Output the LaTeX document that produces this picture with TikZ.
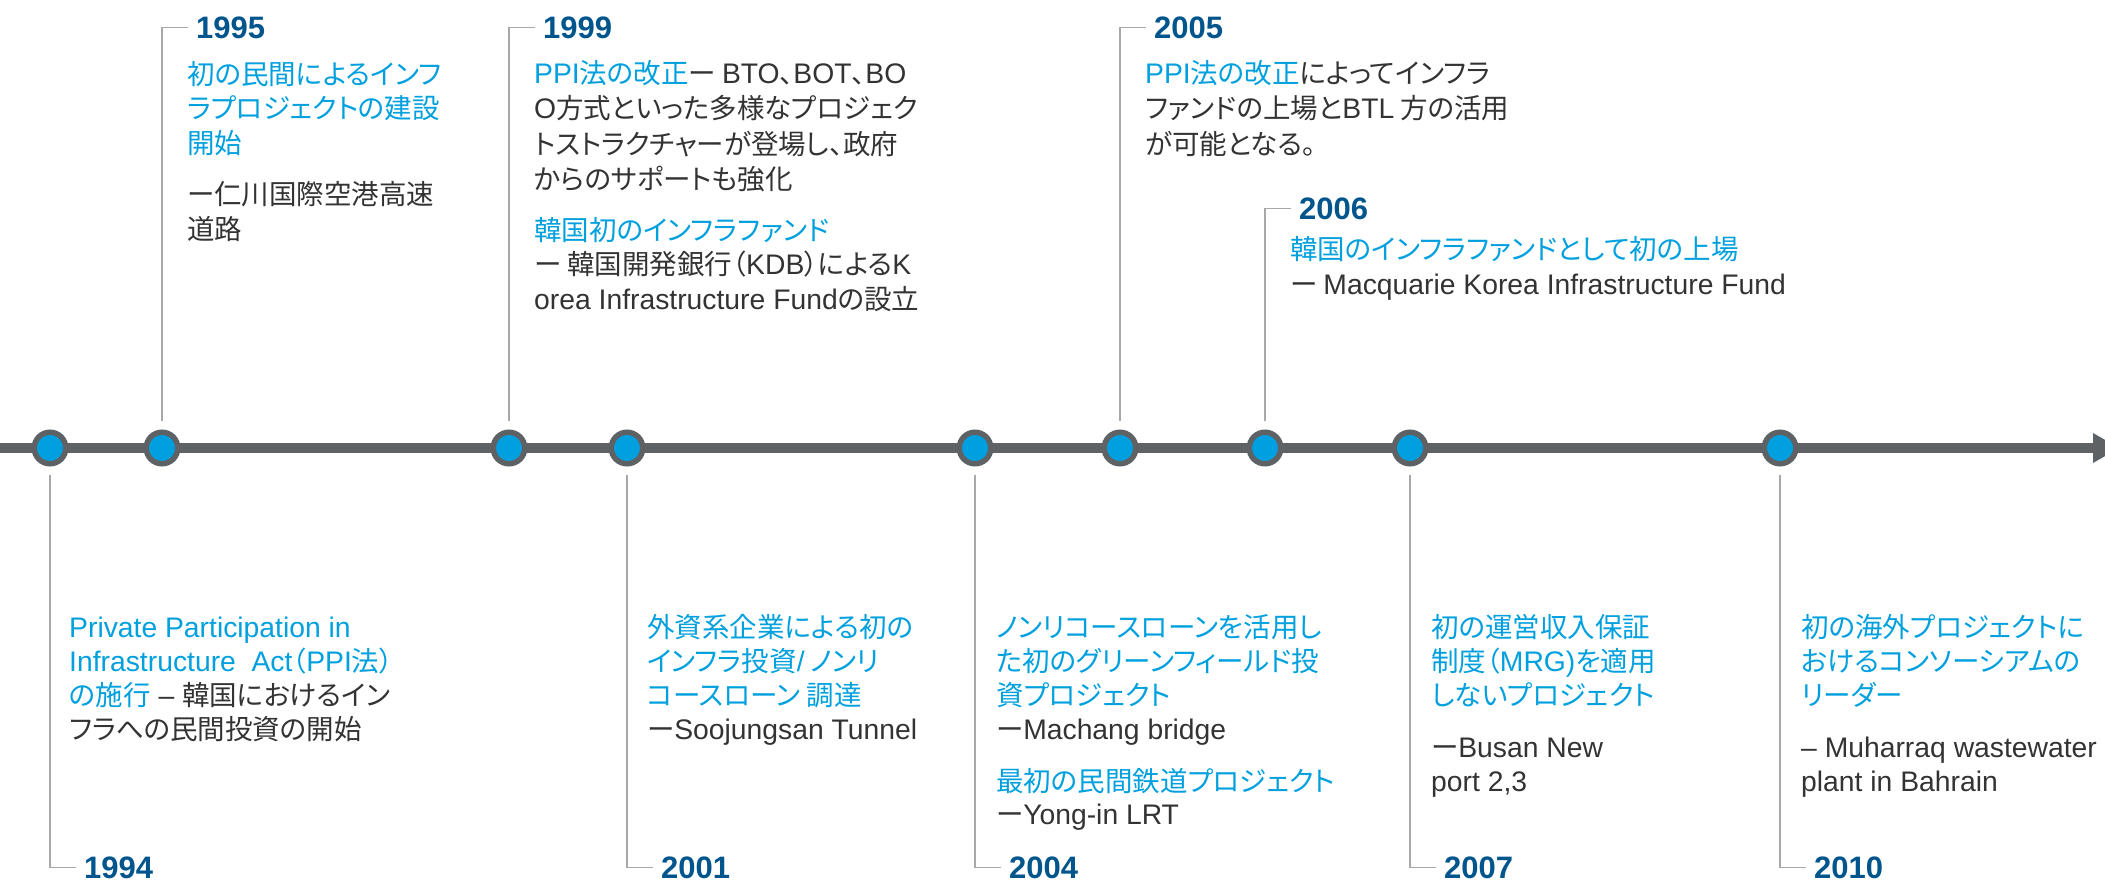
\documentclass[tikz,border=0pt]{standalone}
\usepackage{fontspec}
\setmainfont{Liberation Sans}
\newfontfamily\latf{Liberation Sans}
\newfontfamily\jpf[RawFeature=+palt]{Noto Sans CJK JP}
\newcommand\lat[1]{{\latf\fontsize{28.3}{34}\selectfont #1}}
\definecolor{tlgray}{RGB}{94,98,100}
\definecolor{cblue}{RGB}{0,159,224}
\definecolor{tblue}{RGB}{0,160,222}
\definecolor{ydark}{RGB}{0,86,140}
\definecolor{txt}{RGB}{51,51,51}
\definecolor{conngray}{RGB}{168,168,168}
\tikzset{
  tl/.style={anchor=base west, inner sep=0pt, font=\fontsize{27.5}{34}\jpf, text=txt},
  bl/.style={tl, text=tblue},
  yr/.style={anchor=base west, inner xsep=8pt, inner ysep=0pt, font=\fontsize{31}{31}\selectfont\bfseries, text=ydark},
  dot/.style={circle, minimum size=31.5pt, inner sep=0pt, line width=5.5pt, draw=tlgray, fill=cblue},
  conn/.style={draw=conngray, line width=1.3pt},
}
\begin{document}
\begin{tikzpicture}[x=1pt,y=-1pt]
\useasboundingbox (0,0) rectangle (2105,882);
% timeline
\coordinate (tlstart) at (0,448);
\coordinate (tlend) at (2093,448);
\draw[line width=10pt, tlgray] (tlstart) -- (tlend);
\fill[tlgray] (2093,433) -- (2119,448) -- (2093,463) -- cycle;
% circles
\node[dot] (c94) at (50,448) {};
\node[dot] (c95) at (162,448) {};
\node[dot] (c99) at (509,448) {};
\node[dot] (c01) at (627,448) {};
\node[dot] (c04) at (975,448) {};
\node[dot] (c05) at (1120,448) {};
\node[dot] (c06) at (1265,448) {};
\node[dot] (c07) at (1410,448) {};
\node[dot] (c10) at (1780,448) {};
% years
\node[yr] (y95) at (188,38.5) {1995};
\node[yr] (y99) at (535,38.5) {1999};
\node[yr] (y05) at (1146,38.5) {2005};
\node[yr] (y06) at (1291,219.5) {2006};
\node[yr] (y94) at (76,878) {1994};
\node[yr] (y01) at (653,878) {2001};
\node[yr] (y04) at (1001,878) {2004};
\node[yr] (y07) at (1436,878) {2007};
\node[yr] (y10) at (1806,878) {2010};
% connectors
\foreach \c/\y in {c95/y95,c99/y99,c05/y05,c06/y06}{
  \draw[conn] ([yshift=8pt]\c.north) |- (\y.west);
}
\foreach \c/\y in {c94/y94,c01/y01,c04/y04,c07/y07,c10/y10}{
  \draw[conn] ([yshift=-8pt]\c.south) |- (\y.west);
}
% 1995
\node[bl] (t95a) at (187,84.5) {初の民間によるインフ};
\node[bl] (t95b) at (187,119) {ラプロジェクトの建設};
\node[bl] (t95c) at (187,153.5) {開始};
\node[tl] (t95d) at (187,205) {ー仁川国際空港高速};
\node[tl] (t95e) at (187,239.5) {道路};
% 1999
\node[tl] (t99a) at (534,83.5) {\textcolor{tblue}{\lat{PPI}法の改正}ー \lat{BTO}、\lat{BOT}、\lat{BO}};
\node[tl] (t99b) at (534,119) {\lat{O}方式といった多様なプロジェク};
\node[tl] (t99c) at (534,154.5) {トストラクチャーが登場し、政府};
\node[tl] (t99d) at (534,189.5) {からのサポートも強化};
\node[bl] (t99e) at (534,240.5) {韓国初のインフラファンド};
\node[tl] (t99f) at (534,275) {ー 韓国開発銀行（\lat{KDB}）による\lat{K}};
\node[tl] (t99g) at (534,309.5) {\lat{orea Infrastructure Fund}の設立};
% 2005
\node[tl] (t05a) at (1145,83.5) {\textcolor{tblue}{\lat{PPI}法の改正}によってインフラ};
\node[tl] (t05b) at (1145,119) {ファンドの上場と\lat{BTL} 方の活用};
\node[tl] (t05c) at (1145,154.5) {が可能となる。};
% 2006
\node[bl] (t06a) at (1290,260) {韓国のインフラファンドとして初の上場};
\node[tl] (t06b) at (1290,295) {ー \lat{Macquarie Korea Infrastructure Fund}};
% 1994
\node[bl] (t94a) at (69,637) {\lat{Private Participation in}};
\node[bl] (t94b) at (69,671) {\lat{Infrastructure\ \ Act}（\lat{PPI}法）};
\node[tl] (t94c) at (69,705) {\textcolor{tblue}{の施行}\lat{ – }韓国におけるイン};
\node[tl] (t94d) at (69,739) {フラへの民間投資の開始};
% 2001
\node[bl] (t01a) at (647,637) {外資系企業による初の};
\node[bl] (t01b) at (647,671) {インフラ投資\lat{/} ノンリ};
\node[bl] (t01c) at (647,705) {コースローン 調達};
\node[tl] (t01d) at (647,739) {ー\lat{Soojungsan Tunnel}};
% 2004
\node[bl] (t04a) at (996,637) {ノンリコースローンを活用し};
\node[bl] (t04b) at (996,671) {た初のグリーンフィールド投};
\node[bl] (t04c) at (996,705) {資プロジェクト};
\node[tl] (t04d) at (996,739) {ー\lat{Machang bridge}};
\node[bl] (t04e) at (996,791) {最初の民間鉄道プロジェクト};
\node[tl] (t04f) at (996,824) {ー\lat{Yong-in LRT}};
% 2007
\node[bl] (t07a) at (1431,637) {初の運営収入保証};
\node[bl] (t07b) at (1431,671) {制度（\lat{MRG)}を適用};
\node[bl] (t07c) at (1431,705) {しないプロジェクト};
\node[tl] (t07d) at (1431,757) {ー\lat{Busan New}};
\node[tl] (t07e) at (1431,791) {\lat{port 2,3}};
% 2010
\node[bl] (t10a) at (1801,637) {初の海外プロジェクトに};
\node[bl] (t10b) at (1801,671) {おけるコンソーシアムの};
\node[bl] (t10c) at (1801,705) {リーダー};
\node[tl] (t10d) at (1801,757) {\lat{– Muharraq wastewater}};
\node[tl] (t10e) at (1801,791) {\lat{plant in Bahrain}};
\end{tikzpicture}
\end{document}
